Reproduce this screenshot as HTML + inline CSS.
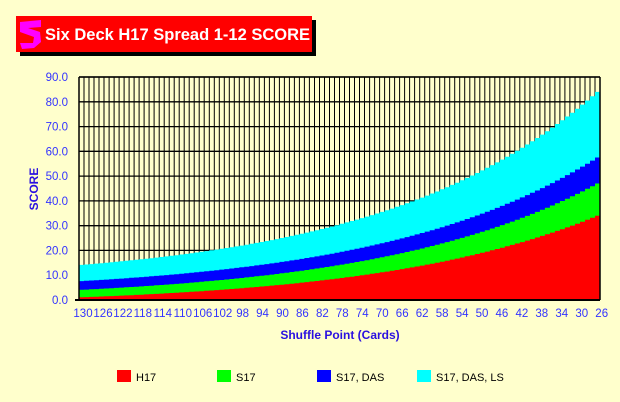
<!DOCTYPE html>
<html><head><meta charset="utf-8"><style>
body{margin:0;background:#ffffcc;}
svg{display:block;font-family:"Liberation Sans",sans-serif;}
</style></head><body>
<svg id="s" width="620" height="402" xmlns="http://www.w3.org/2000/svg">
<rect width="620" height="402" fill="#ffffcc"/>
<rect x="20" y="20" width="296" height="36" fill="#000"/>
<rect x="16" y="16" width="296" height="36" fill="#ff0000"/>
<path d="M20 22 L41 20 L41 27 L28 28 L40 32 L41 42 L34 48 L22 49 L20 43 L33 43 L34 37 L20 32 Z" fill="#ff00ff"/>
<text x="45" y="40" font-size="16.5" font-weight="bold" fill="#fff">Six Deck H17 Spread 1-12 SCORE</text>
<g id="g"></g>
<text x="340" y="339" font-size="12" font-weight="bold" fill="#2a10e0" text-anchor="middle">Shuffle Point (Cards)</text>
<text x="38" y="189" font-size="12" font-weight="bold" fill="#2a10e0" text-anchor="middle" transform="rotate(-90 38 189)">SCORE</text>
<rect x="117" y="370" width="14" height="12" fill="#ff0000"/><text x="136" y="381" font-size="11">H17</text>
<rect x="217" y="370" width="14" height="12" fill="#00ff00"/><text x="236" y="381" font-size="11">S17</text>
<rect x="317" y="370" width="14" height="12" fill="#0000ff"/><text x="336" y="381" font-size="11">S17, DAS</text>
<rect x="417" y="370" width="14" height="12" fill="#00ffff"/><text x="436" y="381" font-size="11">S17, DAS, LS</text>
</svg>
<script>
var g=document.getElementById('g'),h='';
var L=79,R=600,T=77,B=300,N=104,dx=(R-L)/N;
function Y(v){return B-v*(B-T)/90;}
var k=2.4,E=Math.exp(k)-1;
var S=[[1,33,'#00ffff'],[4,43,'#00ff00'],[7.5,50,'#0000ff'],[14,70,'#00ffff']];
function f(i,j){var t=(i+1)/N;var s=S[j];return s[0]+s[1]*(Math.exp(k*t)-1)/E;}
var cols=['#ff0000','#00ff00','#0000ff','#00ffff'];
var gr='';
for(var i=0;i<=N;i++){var x=(L+i*dx).toFixed(1);gr+='<line x1="'+x+'" y1="'+T+'" x2="'+x+'" y2="'+B+'" stroke="#000" stroke-width="1"/>';}
for(var v=0;v<=90;v+=10){var y=Y(v).toFixed(1);gr+='<line x1="'+L+'" y1="'+y+'" x2="'+R+'" y2="'+y+'" stroke="#000" stroke-width="1.3"/>';
gr+='<text x="68" y="'+(Y(v)+4).toFixed(1)+'" font-size="11.5" fill="#3333ff" text-anchor="end">'+v.toFixed(1)+'</text>';}
h+=gr;
for(var j=3;j>=0;j--){var d='M'+L+' '+B;
for(var i=0;i<N;i++){var x0=L+i*dx,x1=x0+dx,y=Y(f(i,j)).toFixed(1);d+=' L'+x0.toFixed(1)+' '+y+' L'+x1.toFixed(1)+' '+y;}
d+=' L'+R+' '+B+' Z';h+='<path d="'+d+'" fill="'+cols[j]+'"/>';}
h+='<line x1="'+L+'" y1="'+T+'" x2="'+R+'" y2="'+T+'" stroke="#000" stroke-width="1.5"/>';
h+='<line x1="'+R+'" y1="'+T+'" x2="'+R+'" y2="'+B+'" stroke="#000" stroke-width="1.5"/>';
h+='<line x1="'+L+'" y1="'+T+'" x2="'+L+'" y2="'+(B+1)+'" stroke="#000" stroke-width="1.5"/>';
h+='<line x1="'+(L-4)+'" y1="'+B+'" x2="'+R+'" y2="'+B+'" stroke="#000" stroke-width="2"/>';
for(var i=0;i<27;i++){h+='<text x="'+(83+i*19.95).toFixed(1)+'" y="317" font-size="11.5" fill="#3333ff" text-anchor="middle">'+(130-4*i)+'</text>';}
g.innerHTML=h;
</script>
</body></html>
